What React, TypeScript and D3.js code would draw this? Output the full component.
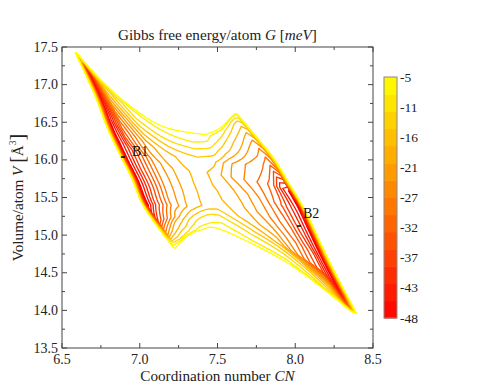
import { useMemo } from "react";
import * as d3 from "d3";

// contour levels of G [meV] (15 lines, -48 ... -5)
const LEVELS = [-48, -44.93, -41.86, -38.79, -35.71, -32.64, -29.57, -26.5, -23.43, -20.36, -17.29, -14.21, -11.14, -8.07, -5];
const CBAR_LABELS = ["-5", "-11", "-16", "-21", "-27", "-32", "-37", "-43", "-48"];

const X_TICKS = [6.5, 7.0, 7.5, 8.0, 8.5];
const X_MINOR = [6.75, 7.25, 7.75, 8.25];
const Y_TICKS = [13.5, 14.0, 14.5, 15.0, 15.5, 16.0, 16.5, 17.0, 17.5];
const Y_MINOR = [13.75, 14.25, 14.75, 15.25, 15.75, 16.25, 16.75, 17.25];

const EDGE_TOP = [[6.577, 17.46], [6.744, 17.075], [6.931, 16.729], [7.143, 16.45], [7.387, 16.344], [7.458, 16.364], [7.523, 16.437], [7.58, 16.556], [7.619, 16.636]];
const EDGE_RIGHT = [[7.619, 16.636], [7.722, 16.378], [7.863, 16.02], [7.964, 15.675], [8.063, 15.331], [8.146, 14.97], [8.23, 14.607], [8.319, 14.254], [8.41, 13.899]];
const EDGE_LEFT = [[6.577, 17.46], [6.654, 17.123], [6.726, 16.78], [6.79, 16.429], [6.867, 16.091], [6.948, 15.756], [7.014, 15.423], [7.117, 15.103], [7.227, 14.802]];
const EDGE_BOTTOM = [[7.227, 14.802], [7.272, 14.922], [7.33, 15.015], [7.4, 15.068], [7.484, 15.095], [7.709, 14.895], [7.947, 14.63], [8.172, 14.297], [8.41, 13.899]];

// grid stations across the region (left edge -> right edge) and along it (top -> bottom)
const ACROSS = [0, 0.02, 0.05, 0.12, 0.25, 0.38, 0.46, 0.54, 0.65, 0.76, 0.86, 0.92, 0.96, 1];
const ALONG = [0, 0.02, 0.06, 0.12, 0.2, 0.3, 0.42, 0.54, 0.66, 0.76, 0.85, 0.92, 0.97, 1];

// estimated G [meV] at the grid stations, one row per ALONG station
const GIBBS = [
  [-4, -4, -4, -4, -4, -4, -4, -4, -4, -4, -4, -4, -4, -4],
  [-4, -25, -20, -10, -6.6, -5.8, -5.5, -5.6, -5.9, -6.5, -9, -9.5, -9, -4],
  [-4, -25, -49, -16, -9, -7.4, -5.8, -6.9, -9, -11, -14, -15, -13, -4],
  [-4, -22.8, -49.4, -20.5, -11.6, -9.4, -7.8, -8.6, -11.5, -15.5, -18, -20, -18, -4],
  [-4, -21.9, -49.5, -26, -15.6, -12.9, -11.3, -12.4, -16, -20, -24, -26, -23, -4],
  [-4, -25.5, -48.5, -32.5, -21.4, -17.2, -15.2, -16.5, -23, -27, -29, -33, -29, -4],
  [-4, -24.6, -49.4, -40, -25.5, -18.6, -16.1, -18.6, -24.5, -29, -34, -45, -49, -4],
  [-4, -27, -49, -39.5, -26.2, -19, -16.2, -17.7, -21.2, -27.6, -36.1, -43, -49.5, -4],
  [-4, -22, -49.5, -40, -26.2, -19.4, -16.8, -16.7, -20.1, -26.2, -32.9, -41.6, -49.5, -4],
  [-4, -27, -49.5, -39.1, -26.6, -19.6, -17.4, -14.5, -18.2, -22.5, -30.1, -38.4, -49.5, -4],
  [-4, -23.6, -39, -31.8, -21, -14, -12, -10, -13.6, -18, -30, -38, -49.5, -4],
  [-4, -14, -24, -19.5, -15, -9.6, -9.1, -7.5, -9.6, -11.1, -15.2, -20, -49, -4],
  [-4, -8, -9, -12, -10, -6.3, -6.6, -5.5, -6.8, -7, -10, -12.8, -35, -4],
  [-4, -4, -4, -4, -4, -4, -4, -4, -4, -4, -4, -4, -4, -4],
];

const MIN_NAMES = ["B1", "B2"];
const MIN_CN = [6.892, 8.024];
const MIN_V = [16.038, 15.121];

const W = 491;
const H = 392;
const M = { top: 47, right: 118, bottom: 44, left: 62 };
const FONT = "'Liberation Serif', 'DejaVu Serif', serif";

// catmull-rom through the edge points, parameter s in [0,1]
function catmull(pts: number[][]) {
  const n = pts.length;
  return (s: number) => {
    const u = Math.max(0, Math.min(1, s)) * (n - 1);
    const i = Math.min(n - 2, Math.floor(u));
    const t = u - i;
    const p0 = pts[Math.max(0, i - 1)], p1 = pts[i], p2 = pts[i + 1], p3 = pts[Math.min(n - 1, i + 2)];
    const t2 = t * t, t3 = t2 * t;
    return [0, 1].map(k => 0.5 * (2 * p1[k] + (-p0[k] + p2[k]) * t
      + (2 * p0[k] - 5 * p1[k] + 4 * p2[k] - p3[k]) * t2
      + (-p0[k] + 3 * p1[k] - 3 * p2[k] + p3[k]) * t3));
  };
}

function nodeAt(nodes: number[], c: number) {
  const idx = Math.max(0, Math.min(nodes.length - 1, c - 0.5));
  const i = Math.min(nodes.length - 2, Math.floor(idx));
  return nodes[i] + (idx - i) * (nodes[i + 1] - nodes[i]);
}

export default function App() {
  const x = d3.scaleLinear().domain([6.5, 8.5]).range([M.left, W - M.right]);
  const y = d3.scaleLinear().domain([13.5, 17.5]).range([H - M.bottom, M.top]);
  const color = d3.scaleLinear<string>().domain([-48, -5]).range(["#ff0000", "#ffff00"]);
  const cb = d3.scaleLinear().domain([-48, -5]).range([318, 77]);
  const cbTicks = d3.scalePoint<string>().domain(CBAR_LABELS).range([77, 318]);

  const lines = useMemo(() => {
    const toPx = (pts: number[][]) => pts.map(([c, v]) => [x(c), y(v)]);
    const T = catmull(toPx(EDGE_TOP));
    const R = catmull(toPx(EDGE_RIGHT));
    const L = catmull(toPx(EDGE_LEFT));
    const B = catmull(toPx(EDGE_BOTTOM));
    const c00 = T(0), c10 = T(1), c01 = B(0), c11 = B(1);
    // coons patch: (across, along) -> pixel
    const patch = (a: number, b: number) => {
      const l = L(b), r = R(b), t = T(a), bo = B(a);
      return [0, 1].map(k => (1 - a) * l[k] + a * r[k] + (1 - b) * t[k] + b * bo[k]
        - ((1 - a) * (1 - b) * c00[k] + a * (1 - b) * c10[k] + (1 - a) * b * c01[k] + a * b * c11[k])) as [number, number];
    };
    const nA = ACROSS.length, nB = ALONG.length;
    const values = GIBBS.flatMap(row => row.map(g => -g));
    const gen = d3.contours().size([nA, nB]).thresholds(LEVELS.map(l => -l));
    const line = d3.line();
    return gen(values).map(c => {
      const g = -c.value;
      const d = c.coordinates.map(poly => poly.map(ring => {
        const pts: [number, number][] = [];
        for (let k = 0; k < ring.length - 1; k++) {
          const [x0, y0] = ring[k], [x1, y1] = ring[k + 1];
          for (let s = 0; s < 6; s++) {
            const cx = x0 + (x1 - x0) * s / 6, cy = y0 + (y1 - y0) * s / 6;
            pts.push(patch(nodeAt(ACROSS, cx), nodeAt(ALONG, cy)));
          }
        }
        return line(pts) + "Z";
      }).join("")).join("");
      return { g, d };
    }).sort((p, q) => p.g - q.g);
  }, []);

  const axisColor = "#444";
  const [x0, x1] = x.range();
  const [y0, y1] = y.range();
  const labelDx = [9, 4];
  const labelDy = [-1, -8];

  return (
    <svg width={W} height={H} style={{ position: "absolute", left: 0, top: 0, background: "#fff" }} fontFamily={FONT}>
      {lines.map((l, i) => (
        <path key={i} d={l.d} fill="none" stroke={color(l.g)} strokeWidth={1.35} strokeLinejoin="round" />
      ))}

      {/* frame + inward ticks */}
      <rect x={x0} y={y1} width={x1 - x0} height={y0 - y1} fill="none" stroke={axisColor} strokeWidth={1} />
      {X_TICKS.map(t => (
        <g key={"xt" + t}>
          <line x1={x(t)} x2={x(t)} y1={y0} y2={y0 - 5} stroke={axisColor} />
          <line x1={x(t)} x2={x(t)} y1={y1} y2={y1 + 5} stroke={axisColor} />
          <text x={x(t)} y={y0 + 16} textAnchor="middle" fontSize={14} fill="#222">{t.toFixed(1)}</text>
        </g>
      ))}
      {X_MINOR.map(t => (
        <g key={"xm" + t}>
          <line x1={x(t)} x2={x(t)} y1={y0} y2={y0 - 3} stroke={axisColor} />
          <line x1={x(t)} x2={x(t)} y1={y1} y2={y1 + 3} stroke={axisColor} />
        </g>
      ))}
      {Y_TICKS.map(t => (
        <g key={"yt" + t}>
          <line x1={x0} x2={x0 + 5} y1={y(t)} y2={y(t)} stroke={axisColor} />
          <line x1={x1} x2={x1 - 5} y1={y(t)} y2={y(t)} stroke={axisColor} />
          <text x={x0 - 4} y={y(t) + 4.5} textAnchor="end" fontSize={14} fill="#222">{t.toFixed(1)}</text>
        </g>
      ))}
      {Y_MINOR.map(t => (
        <g key={"ym" + t}>
          <line x1={x0} x2={x0 + 3} y1={y(t)} y2={y(t)} stroke={axisColor} />
          <line x1={x1} x2={x1 - 3} y1={y(t)} y2={y(t)} stroke={axisColor} />
        </g>
      ))}

      {/* minima */}
      {MIN_NAMES.map((n, i) => (
        <g key={n}>
          <line x1={x(MIN_CN[i]) - 2} x2={x(MIN_CN[i]) + 2} y1={y(MIN_V[i])} y2={y(MIN_V[i])} stroke="#000" strokeWidth={1.5} />
          <text x={x(MIN_CN[i]) + labelDx[i]} y={y(MIN_V[i]) + labelDy[i]} fontSize={14} fill="#111">{n}</text>
        </g>
      ))}

      {/* titles */}
      <text x={(x0 + x1) / 2} y={40} textAnchor="middle" fontSize={15.2} fill="#222">
        Gibbs free energy/atom <tspan fontStyle="italic">G</tspan> [<tspan fontStyle="italic">meV</tspan>]
      </text>
      <text x={(x0 + x1) / 2} y={381} textAnchor="middle" fontSize={15.2} fill="#222">
        Coordination number <tspan fontStyle="italic">CN</tspan>
      </text>
      <text transform={`translate(23,${(y0 + y1) / 2}) rotate(-90)`} textAnchor="middle" fontSize={15.2} fill="#222">
        Volume/atom <tspan fontStyle="italic">V</tspan> <tspan fontSize={20} dy={1}>[</tspan><tspan dy={-1}>Å</tspan><tspan fontSize={9.5} dy={-7}>3</tspan><tspan fontSize={20} dy={8}>]</tspan>
      </text>

      {/* colorbar */}
      {LEVELS.slice(0, -1).map((l, i) => (
        <rect key={"cb" + i} x={384} width={13} y={cb(LEVELS[i + 1])} height={cb(l) - cb(LEVELS[i + 1]) + 0.5}
          fill={color((l + LEVELS[i + 1]) / 2)} />
      ))}
      <rect x={384} y={77} width={13} height={241} fill="none" stroke="#888" strokeWidth={1} />
      {CBAR_LABELS.map(s => (
        <text key={"cbl" + s} x={400} y={(cbTicks(s) ?? 0) + 4.5} fontSize={13.5} fill="#222">{s}</text>
      ))}
    </svg>
  );
}
